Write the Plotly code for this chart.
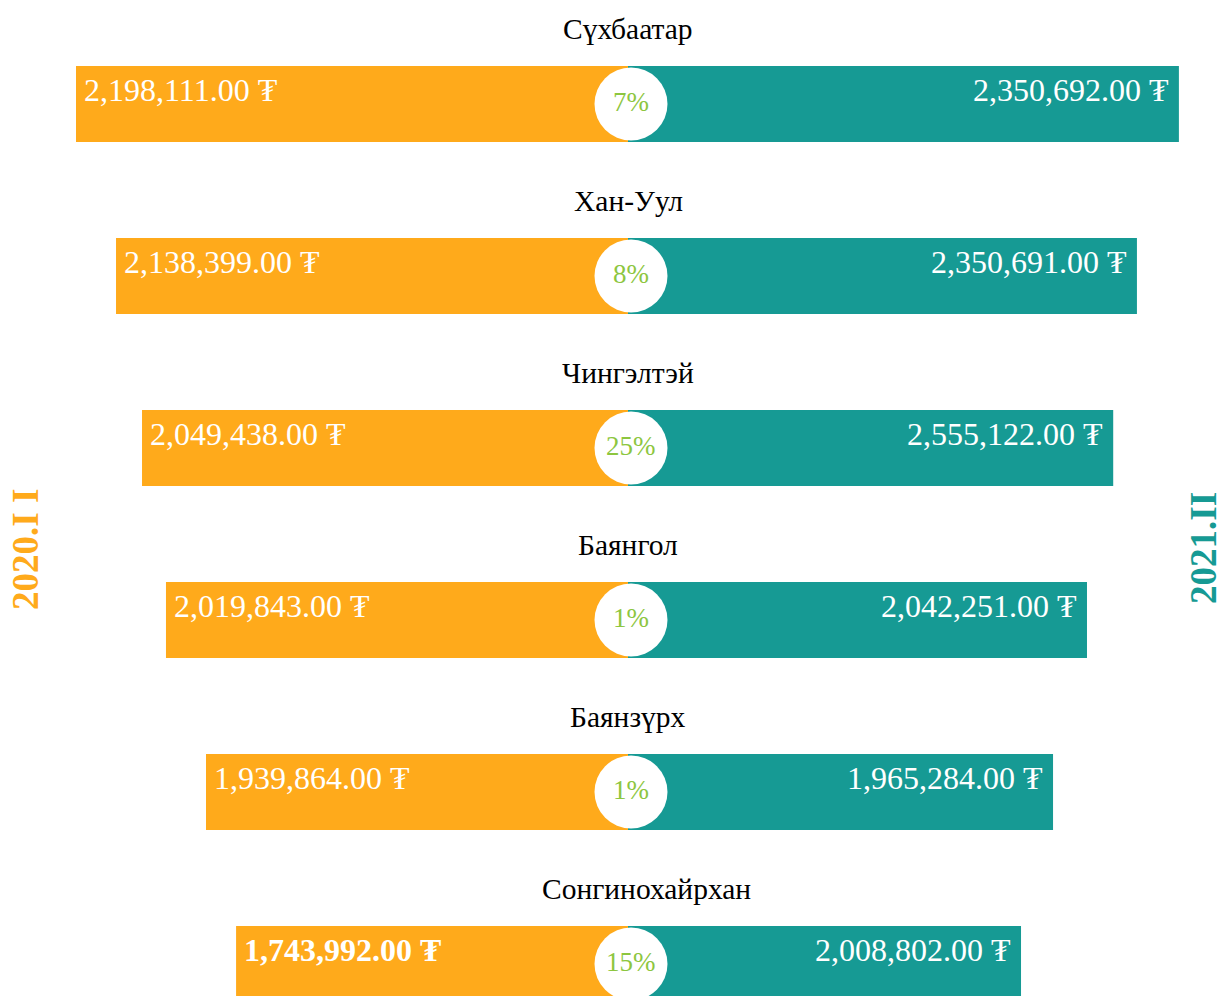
import plotly.graph_objects as go

# districts, top to bottom
districts = ["Сүхбаатар", "Хан-Уул", "Чингэлтэй", "Баянгол", "Баянзүрх", "Сонгинохайрхан"]
values_2020 = [2198111.00, 2138399.00, 2049438.00, 2019843.00, 1939864.00, 1743992.00]
values_2021 = [2350692.00, 2350691.00, 2555122.00, 2042251.00, 1965284.00, 2008802.00]
pct_change = [7, 8, 25, 1, 1, 15]
# relative bar lengths as drawn (funnel-style, not proportional to value)
scale_2020 = [1.0, 0.9275, 0.8804, 0.837, 0.7645, 0.710]
scale_2021 = [0.998, 0.922, 0.879, 0.8315, 0.770, 0.712]
label_left = "2020.I I"
label_right = "2021.II"

ORANGE = "#FFAA1B"
TEAL = "#169A94"
GREEN = "#8DC63F"
FONT = "Liberation Serif, Times New Roman, serif"

idx = list(range(len(districts)))

W, H = 1221, 996
PX_X = 552      # pixels per unit of bar scale
PX_Y = 172      # pixels between rows
CX = 628        # centre line
CY0 = 104       # first row centre

fig = go.Figure()

fig.add_trace(go.Bar(
    y=idx, x=[-s for s in scale_2020], base=0, orientation="h",
    width=76 / PX_Y, marker=dict(color=ORANGE, line=dict(width=0)),
    hoverinfo="skip", showlegend=False
))
fig.add_trace(go.Bar(
    y=idx, x=scale_2021, base=0, orientation="h",
    width=76 / PX_Y, marker=dict(color=TEAL, line=dict(width=0)),
    hoverinfo="skip", showlegend=False
))
fig.add_trace(go.Scatter(
    x=[3 / PX_X] * len(idx), y=idx, mode="markers",
    marker=dict(size=73, color="white", line=dict(width=0)),
    hoverinfo="skip", showlegend=False
))


def fmt(v):
    return f"{v:,.2f} ₮"


annotations = []
for i, name in enumerate(districts):
    last = i == len(districts) - 1
    # the long last title sits a bit right of centre in the original
    annotations.append(dict(
        x=0, y=i, text=name, showarrow=False,
        xanchor="center", yanchor="middle", yshift=75, xshift=18 if last else 0,
        font=dict(family=FONT, size=29.5, color="black")
    ))
    left_txt = fmt(values_2020[i])
    if last:
        left_txt = "<b>" + left_txt + "</b>"
    annotations.append(dict(
        x=-scale_2020[i], y=i, text=left_txt, showarrow=False,
        xanchor="left", yanchor="middle", xshift=6, yshift=14,
        font=dict(family=FONT, size=32, color="white")
    ))
    annotations.append(dict(
        x=scale_2021[i], y=i, text=fmt(values_2021[i]), showarrow=False,
        xanchor="right", yanchor="middle", xshift=-8, yshift=14,
        font=dict(family=FONT, size=32, color="white")
    ))
    annotations.append(dict(
        x=3 / PX_X, y=i, text=f"{pct_change[i]}%", showarrow=False,
        xanchor="center", yanchor="middle", yshift=2,
        font=dict(family=FONT, size=27, color=GREEN)
    ))

annotations.append(dict(
    xref="paper", yref="paper", x=25 / W, y=1 - 550 / H, text=f"<b>{label_left}</b>",
    showarrow=False, textangle=-90, xanchor="center", yanchor="middle",
    font=dict(family=FONT, size=37, color=ORANGE)
))
annotations.append(dict(
    xref="paper", yref="paper", x=1203 / W, y=1 - 548 / H, text=f"<b>{label_right}</b>",
    showarrow=False, textangle=-90, xanchor="center", yanchor="middle",
    font=dict(family=FONT, size=37, color=TEAL)
))

fig.update_layout(
    width=W, height=H,
    margin=dict(l=0, r=0, t=0, b=0),
    paper_bgcolor="white", plot_bgcolor="white",
    barmode="overlay",
    xaxis=dict(range=[-CX / PX_X, (W - CX) / PX_X], visible=False, fixedrange=True),
    yaxis=dict(range=[(H - CY0) / PX_Y, -CY0 / PX_Y], visible=False, fixedrange=True),
    annotations=annotations,
)

# drop the default page margin so the figure fills the window exactly
fig.write_html(
    "out.html",
    config={"displayModeBar": False},
    post_script="document.body.style.margin='0';document.body.style.overflow='hidden';",
)
